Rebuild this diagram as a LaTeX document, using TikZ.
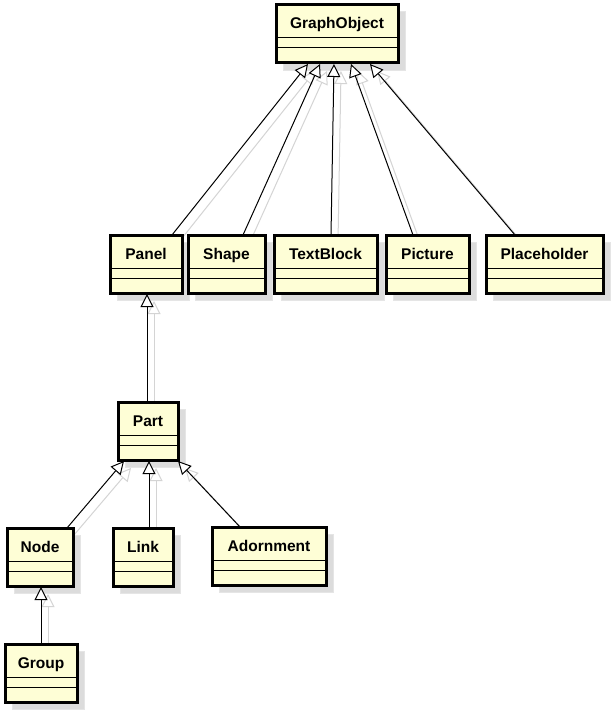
\documentclass[tikz,border=0pt]{standalone}
\usepackage{fontspec}
\setmainfont{Liberation Sans}
\usetikzlibrary{calc,arrows.meta}
\pgfdeclarelayer{bg}
\pgfdeclarelayer{shadow}
\pgfdeclarelayer{lines}
\pgfsetlayers{bg,shadow,lines,main}
\definecolor{boxfill}{HTML}{FEFED6}
\definecolor{shadowc}{HTML}{DCDCDC}
\definecolor{lineshadow}{HTML}{D4D4D4}
\tikzset{
  cls/.style={draw=black, line width=3pt, fill=boxfill, inner sep=0pt, outer sep=0pt},
  lab/.style={font=\fontsize{15.5}{18}\selectfont\bfseries, inner sep=0pt, anchor=base},
  comp/.style={line width=1pt},
  conn/.style={line width=1pt, -{Triangle[length=13pt,width=13pt,fill=white,line width=1pt]}},
  conns/.style={line width=1pt, draw=lineshadow, -{Triangle[open,length=13pt,width=13pt,line width=1pt]}},
  shad/.style={fill=shadowc, draw=black!10, line width=1pt}
}
\newcommand\umlclass[6]{%
  \node[cls, minimum width={#5-#3}, minimum height={#6-#4}] (#1) at ({(#3+#5)/2},{(#4+#6)/2}) {};
  \node[lab] (#1-t) at ($(#1.north)+(0,24)$) {#2};
  \draw[comp] ($(#1.north west)+(0,33)$) -- ($(#1.north east)+(0,33)$);
  \draw[comp] ($(#1.north west)+(0,43)$) -- ($(#1.north east)+(0,43)$);
  \begin{pgfonlayer}{shadow}
    \filldraw[shad] ($(#1.north west)+(7,7)$) rectangle ($(#1.south east)+(7,7)$);
  \end{pgfonlayer}
}
\newcommand\gen[4]{%
  \begin{pgfonlayer}{shadow}
    \draw[conns] ($(#1.north west)+(#2+7,7)$) -- ($(#3.south west)+(#4+7,8)$);
  \end{pgfonlayer}
  \begin{pgfonlayer}{lines}
    \draw[conn] ($(#1.north west)+(#2,0)$) -- ($(#3.south west)+(#4,1)$);
  \end{pgfonlayer}
}
\begin{document}
\begin{tikzpicture}[x=1pt,y=-1pt]
\begin{pgfonlayer}{bg}
\fill[white] (0,0) rectangle (614,717);
\end{pgfonlayer}
\useasboundingbox (0,0) rectangle (614,717);
\umlclass{go}{GraphObject}{276}{5}{398}{63}
\umlclass{panel}{Panel}{110}{235}{182}{293}
\umlclass{shape}{Shape}{188}{235}{265}{293}
\umlclass{textblock}{TextBlock}{274}{235}{377}{293}
\umlclass{picture}{Picture}{386}{235}{469}{293}
\umlclass{placeholder}{Placeholder}{486}{235}{603}{293}
\umlclass{part}{Part}{118}{402}{178}{460}
\umlclass{node}{Node}{7}{528}{73}{586}
\umlclass{link}{Link}{113}{528}{173}{586}
\umlclass{adornment}{Adornment}{212}{527}{326}{585}
\umlclass{group}{Group}{5}{644}{77}{702}
\gen{panel}{62}{go}{32}
\gen{shape}{55}{go}{44}
\gen{textblock}{57}{go}{58}
\gen{picture}{27}{go}{75}
\gen{placeholder}{29}{go}{94}
\gen{part}{29}{panel}{37}
\gen{node}{60}{part}{6}
\gen{link}{36}{part}{31}
\gen{adornment}{28}{part}{60}
\gen{group}{36}{node}{34}
\end{tikzpicture}
\end{document}
